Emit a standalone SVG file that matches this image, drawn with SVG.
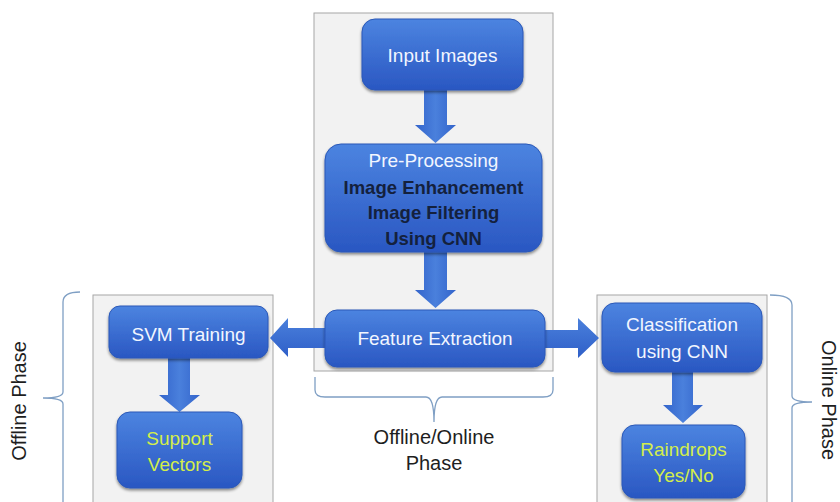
<svg xmlns="http://www.w3.org/2000/svg" width="840" height="502" viewBox="0 0 840 502">
<defs>
<linearGradient id="boxg" x1="0" y1="0" x2="0" y2="1">
<stop offset="0" stop-color="#4c84e0"/>
<stop offset="1" stop-color="#2a57c2"/>
</linearGradient>
<linearGradient id="arrv" x1="0" y1="0" x2="1" y2="0">
<stop offset="0" stop-color="#3364cb"/>
<stop offset="0.5" stop-color="#4a80dc"/>
<stop offset="1" stop-color="#3364cb"/>
</linearGradient>
<linearGradient id="arrh" x1="0" y1="0" x2="0" y2="1">
<stop offset="0" stop-color="#4a80dc"/>
<stop offset="1" stop-color="#2f5fc8"/>
</linearGradient>
<filter id="sh" x="-10%" y="-10%" width="120%" height="130%">
<feGaussianBlur in="SourceAlpha" stdDeviation="1.5"/>
<feOffset dx="0" dy="2" result="b"/>
<feComponentTransfer><feFuncA type="linear" slope="0.45"/></feComponentTransfer>
<feMerge><feMergeNode/><feMergeNode in="SourceGraphic"/></feMerge>
</filter>
</defs>
<style>
.panel{fill:#f2f2f2;stroke:#a6a6a6;stroke-width:1}
.box{fill:url(#boxg);stroke:#2a58b8;stroke-width:1;filter:url(#sh)}
.t{font-family:"Liberation Sans",Arial,sans-serif;font-size:19px;text-anchor:middle}
.w{fill:#f2f6ff}
.b{fill:#14213d;font-weight:bold;font-size:18.5px}
.y{fill:#d4ee4a}
.lbl{font-family:"Liberation Sans",Arial,sans-serif;font-size:20px;fill:#1e1e1e;text-anchor:middle}
.brace{fill:none;stroke:#7f9fc4;stroke-width:1.3}
.av{fill:url(#arrv)}
.ah{fill:url(#arrh)}
</style>
<rect width="840" height="502" fill="#ffffff"/>
<g id="panels">
<rect class="panel" x="314" y="13" width="239" height="358"/>
<rect class="panel" x="93" y="295" width="180" height="220"/>
<rect class="panel" x="597" y="295" width="170" height="220"/>
</g>
<g id="braces">
<path class="brace" d="M80,292 Q63,292 63,302 L63,392 Q63,398 43,398 Q63,398 63,404 L63,510"/>
<path class="brace" d="M770,295 Q792,295 792,305 L792,396 Q792,402 812,402 Q792,402 792,408 L792,510"/>
<path class="brace" d="M315,377 L315,390 Q315,397 325,397 L426,397 Q434,397 434,422 Q434,397 442,397 L543,397 Q553,397 553,390 L553,377"/>
</g>
<g id="connectors">
<path class="av" d="M424,88 L447,88 L447,125 L456,125 L435.5,143 L415,125 L424,125 Z"/>
<path class="av" d="M424,250 L447,250 L447,290 L456,290 L435.5,308 L415,290 L424,290 Z"/>
<path class="ah" d="M327,328 L288,328 L288,318 L270,338 L288,357 L288,348 L327,348 Z"/>
<path class="ah" d="M543,330 L578,330 L578,318 L599,338 L578,358 L578,348 L543,348 Z"/>
<path class="av" d="M168,356 L190,356 L190,395 L200,395 L179.5,412 L159,395 L168,395 Z"/>
<path class="av" d="M672,370 L693,370 L693,405 L703,405 L683,423 L663,405 L672,405 Z"/>
</g>
<g id="input-images">
<rect class="box" x="362" y="19" width="161" height="71" rx="13"/>
<text class="t w" x="442.5" y="62">Input Images</text>
</g>
<g id="pre-processing">
<rect class="box" x="325" y="144" width="217" height="108" rx="16"/>
<text class="t w" x="433.5" y="167">Pre-Processing</text>
<text class="t b" x="433.5" y="194">Image Enhancement</text>
<text class="t b" x="433.5" y="219">Image Filtering</text>
<text class="t b" x="433.5" y="245">Using CNN</text>
</g>
<g id="feature-extraction">
<rect class="box" x="325" y="310" width="220" height="57" rx="12"/>
<text class="t w" x="435" y="345">Feature Extraction</text>
</g>
<g id="svm-training">
<rect class="box" x="109" y="306" width="159" height="52" rx="11"/>
<text class="t w" x="188.5" y="341">SVM Training</text>
</g>
<g id="support-vectors">
<rect class="box" x="117" y="412" width="125" height="76" rx="13"/>
<text class="t y" x="179.5" y="445">Support</text>
<text class="t y" x="179.5" y="471">Vectors</text>
</g>
<g id="classification">
<rect class="box" x="602" y="303" width="160" height="69" rx="13"/>
<text class="t w" x="682" y="331">Classification</text>
<text class="t w" x="682" y="358">using CNN</text>
</g>
<g id="raindrops">
<rect class="box" x="622" y="425" width="123" height="73" rx="13"/>
<text class="t y" x="683.5" y="456">Raindrops</text>
<text class="t y" x="683.5" y="482">Yes/No</text>
</g>
<g id="labels">
<text class="lbl" transform="translate(26,401) rotate(-90)">Offline Phase</text>
<text class="lbl" transform="translate(822,400) rotate(90)">Online Phase</text>
<text class="lbl" x="434" y="444">Offline/Online</text>
<text class="lbl" x="434" y="470">Phase</text>
</g>
</svg>
